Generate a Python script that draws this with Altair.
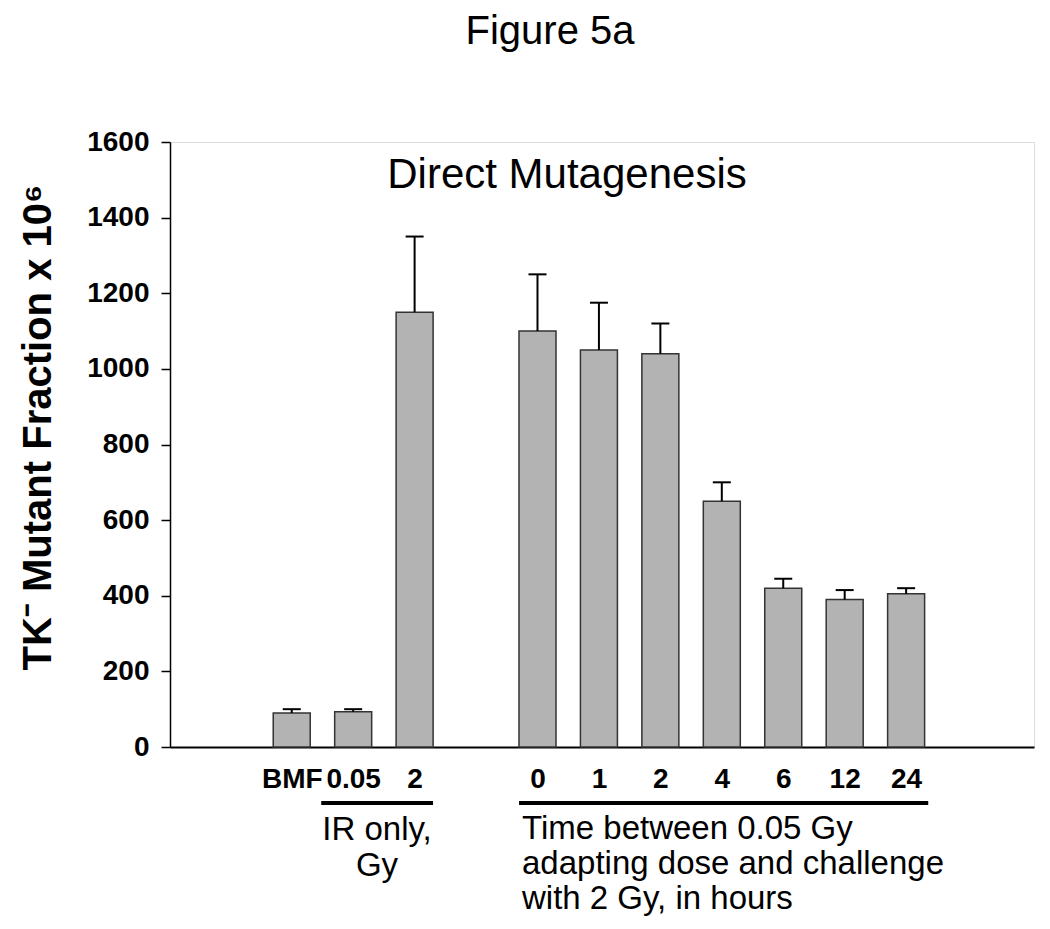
import altair as alt
import pandas as pd

# ---- data ----
categories = ["BMF", "0.05", "2", "0", "1", "2", "4", "6", "12", "24"]
positions = [1, 2, 3, 5, 6, 7, 8, 9, 10, 11]
means = [90, 93, 1150, 1100, 1050, 1040, 650, 420, 390, 405]
errors = [10, 7, 200, 150, 125, 80, 50, 25, 25, 15]

y_ticks = [0, 200, 400, 600, 800, 1000, 1200, 1400, 1600]

# group underline extents (in x-position units)
group_start = [1.48, 4.70]
group_end = [3.30, 11.36]

FONT = "Liberation Sans"

df = pd.DataFrame({
    "pos": positions,
    "label": categories,
    "mean": means,
    "top": [m + e for m, e in zip(means, errors)],
})
groups = pd.DataFrame({"x": group_start, "x2": group_end})
one = pd.DataFrame({"k": [0]})

# label lookup array for the axis
lab_arr = [""] * 13
for p, c in zip(positions, categories):
    lab_arr[p] = c
label_expr = "[" + ",".join("'" + s + "'" for s in lab_arr) + "][datum.value]"

xscale = alt.Scale(domain=[-0.9, 13.0], nice=False, zero=False)
yscale = alt.Scale(domain=[0, 1600], nice=False)

xaxis = alt.Axis(values=positions, labelExpr=label_expr, ticks=False, grid=False,
                 title=None, labelFont=FONT, labelFontWeight="bold", labelFontSize=28,
                 labelColor="black", labelPadding=18, domainColor="black", domainWidth=2,
                 labelFlush=False, labelOverlap=False)
yaxis = alt.Axis(values=y_ticks, format="d", grid=False, tickSize=9, tickWidth=1.5,
                 tickColor="black", domainColor="black", domainWidth=1.5,
                 labelFont=FONT, labelFontWeight="bold", labelFontSize=28, labelColor="black",
                 labelPadding=12,
                 title="TK⁻ Mutant Fraction x 10⁶", titleFont=FONT, titleFontWeight="bold",
                 titleFontSize=40, titleColor="black", titleAngle=270, titleX=-120, titleY=285,
                 titleBaseline="alphabetic", titleAlign="center")

base = alt.Chart(df)

bars = base.mark_bar(size=37, color="#b3b3b3", stroke="#333333", strokeWidth=1.5).encode(
    x=alt.X("pos:Q", scale=xscale, axis=xaxis),
    y=alt.Y("mean:Q", scale=yscale, axis=yaxis),
)

err = base.mark_rule(color="black", strokeWidth=2).encode(
    x="pos:Q", y="mean:Q", y2="top:Q"
)

caps = base.mark_tick(orient="horizontal", size=18, thickness=2, color="black", opacity=1).encode(
    x="pos:Q", y="top:Q"
)

underlines = alt.Chart(groups).mark_rule(color="black", strokeWidth=4).encode(
    x="x:Q", x2="x2:Q", y=alt.value(661)
)

ir_text = alt.Chart(one).mark_text(
    text="IR only,\nGy", lineBreak="\n", font=FONT, fontSize=33, align="center",
    baseline="alphabetic", lineHeight=36, color="black"
).encode(x=alt.value(207), y=alt.value(698))

time_text = alt.Chart(one).mark_text(
    text="Time between 0.05 Gy\nadapting dose and challenge\nwith 2 Gy, in hours", lineBreak="\n",
    font=FONT, fontSize=33, align="left", baseline="alphabetic", lineHeight=35, color="black"
).encode(x=alt.value(352), y=alt.value(697))

inner_title = alt.Chart(one).mark_text(
    text="Direct Mutagenesis", font=FONT, fontSize=42, align="center",
    baseline="alphabetic", color="black"
).encode(x=alt.value(397), y=alt.value(46))

fig_title = alt.Chart(one).mark_text(
    text="Figure 5a", font=FONT, fontSize=40, align="center",
    baseline="alphabetic", color="black"
).encode(x=alt.value(380), y=alt.value(-98))

chart = alt.layer(bars, err, caps, underlines, ir_text, time_text, inner_title, fig_title).properties(
    width=864, height=605,
    autosize=alt.AutoSizeParams(type="none"),
    padding={"left": 162, "top": 134, "right": 8, "bottom": 169},
).configure_view(stroke="black", strokeWidth=1.5).configure(background="white")

chart.save("out.html", embed_options={"renderer": "svg", "actions": False})
